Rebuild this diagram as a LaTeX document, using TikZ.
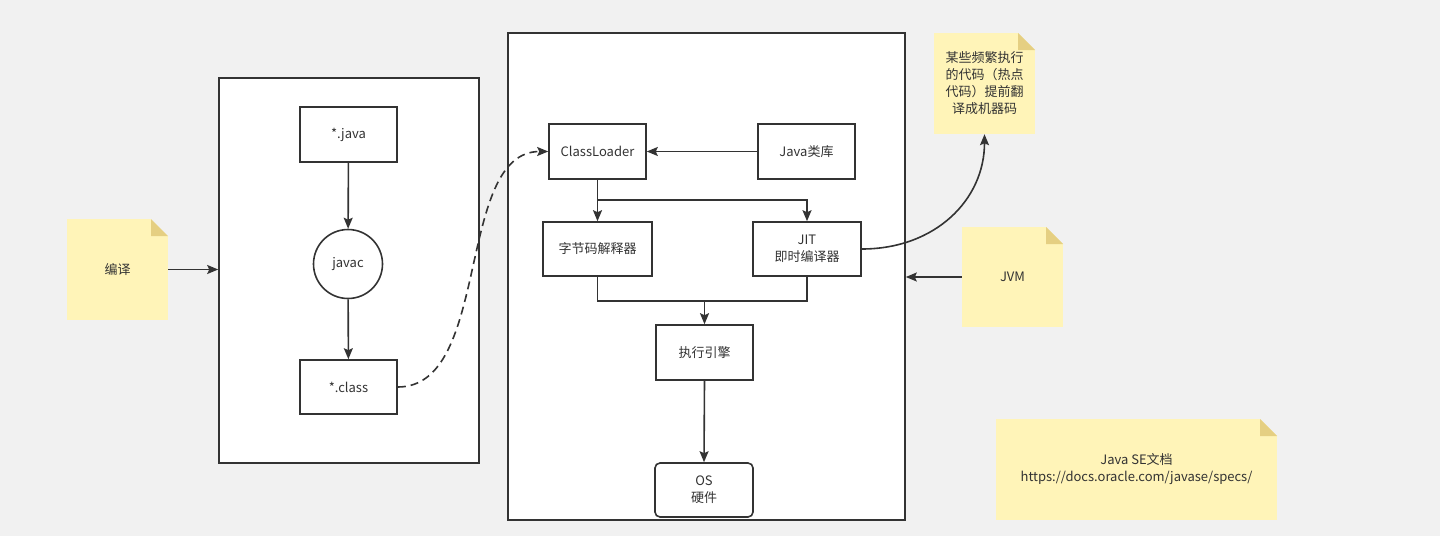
\documentclass[tikz,border=0pt]{standalone}
\usepackage{fontspec}
\setmainfont{Noto Sans CJK SC}
\usetikzlibrary{arrows.meta}
\definecolor{bg}{HTML}{F1F1F1}
\definecolor{linec}{HTML}{333333}
\definecolor{textc}{HTML}{333333}
\definecolor{notefill}{HTML}{FFF4B8}
\definecolor{foldc}{HTML}{E5CF82}
\tikzset{
  box/.style={draw=linec, line width=1.6pt, fill=white, text=textc, align=center, inner sep=0pt},
  bigbox/.style={draw=linec, line width=1.6pt, fill=white, inner sep=0pt},
  arr/.style={draw=linec, line width=1.6pt, -{Stealth[length=11pt,width=9pt,inset=2pt]}},
  ln/.style={draw=linec, line width=1.6pt},
  note/.style={fill=notefill, text=textc, align=center, inner sep=0pt,
    path picture={
      \fill[bg] ([xshift=-17pt]path picture bounding box.north east) -- (path picture bounding box.north east) -- ([yshift=-17pt]path picture bounding box.north east) -- cycle;
      \fill[foldc] ([xshift=-17pt]path picture bounding box.north east) -- ([yshift=-17pt]path picture bounding box.north east) -- ([xshift=-17pt,yshift=-17pt]path picture bounding box.north east) -- cycle;
    }},
}
\begin{document}
\begin{tikzpicture}[x=1pt,y=-1pt, font=\fontsize{13}{17}\selectfont]
\fill[bg] (0,0) rectangle (1440,536);
\useasboundingbox (0,0) rectangle (1440,536);

% big containers
\node[bigbox, minimum width=260pt, minimum height=385pt] (srcbox) at (349,270.5) {};
\node[bigbox, minimum width=397pt, minimum height=487pt] (vmbox) at (706.5,276.5) {};

% source side
\node[box, minimum width=97pt, minimum height=55pt] (java) at (348.5,134.5) {*.java};
\node[box, circle, minimum size=69pt] (javac) at (348,264) {javac};
\node[box, minimum width=97pt, minimum height=54pt] (class) at (348.5,387) {*.class};

% JVM side
\node[box, minimum width=97pt, minimum height=55pt] (cl) at (597.5,151.5) {ClassLoader};
\node[box, minimum width=97pt, minimum height=55pt] (lib) at (806.5,151.5) {Java类库};
\node[box, minimum width=109pt, minimum height=54pt] (interp) at (597.5,249) {字节码解释器};
\node[box, minimum width=108pt, minimum height=54pt] (jit) at (807,249) {JIT\\即时编译器};
\node[box, minimum width=97pt, minimum height=55pt] (exec) at (704.5,352.5) {执行引擎};
\node[box, rounded corners=5pt, minimum width=98pt, minimum height=54pt] (os) at (704,490) {OS\\硬件};

% notes
\node[note, minimum width=101pt, minimum height=101pt] (bianyi) at (117.5,269.5) {编译};
\node[note, minimum width=101pt, minimum height=100pt] (jvm) at (1012.5,277) {JVM};
\node[note, minimum width=101pt, minimum height=101pt, text width=90pt] (hot) at (984.5,83.5) {某些频繁执行\\的代码（热点\\代码）提前翻\\译成机器码};
\node[note, minimum width=281pt, minimum height=101pt] (doc) at (1136.5,469.5) {Java SE文档\\https://docs.oracle.com/javase/specs/};

% connectors
\draw[arr] (java) -- (javac);
\draw[arr] (javac) -- (class);
\draw[arr, dash pattern=on 8pt off 5pt] (class.east) .. controls (492,387) and (455,151.5) .. (cl.west);
\draw[arr] (lib) -- (cl);
\coordinate (split) at (597.5,200);
\coordinate (merge) at (704.5,301);
\draw[arr] (cl.south) -- (interp.north);
\draw[arr] (split) -| (jit.north);
\draw[ln] (interp.south) |- (merge) -| (jit.south);
\draw[arr] (merge) -- (exec.north);
\draw[arr] (exec.south) -- (os.north);
\draw[arr] (jit.east) .. controls (935,249) and (984.5,200) .. (hot.south);
\draw[arr] (bianyi.east) -- (bianyi.east -| srcbox.west);
\draw[arr] (jvm.west) -- (jvm.west -| vmbox.east);
\end{tikzpicture}
\end{document}
